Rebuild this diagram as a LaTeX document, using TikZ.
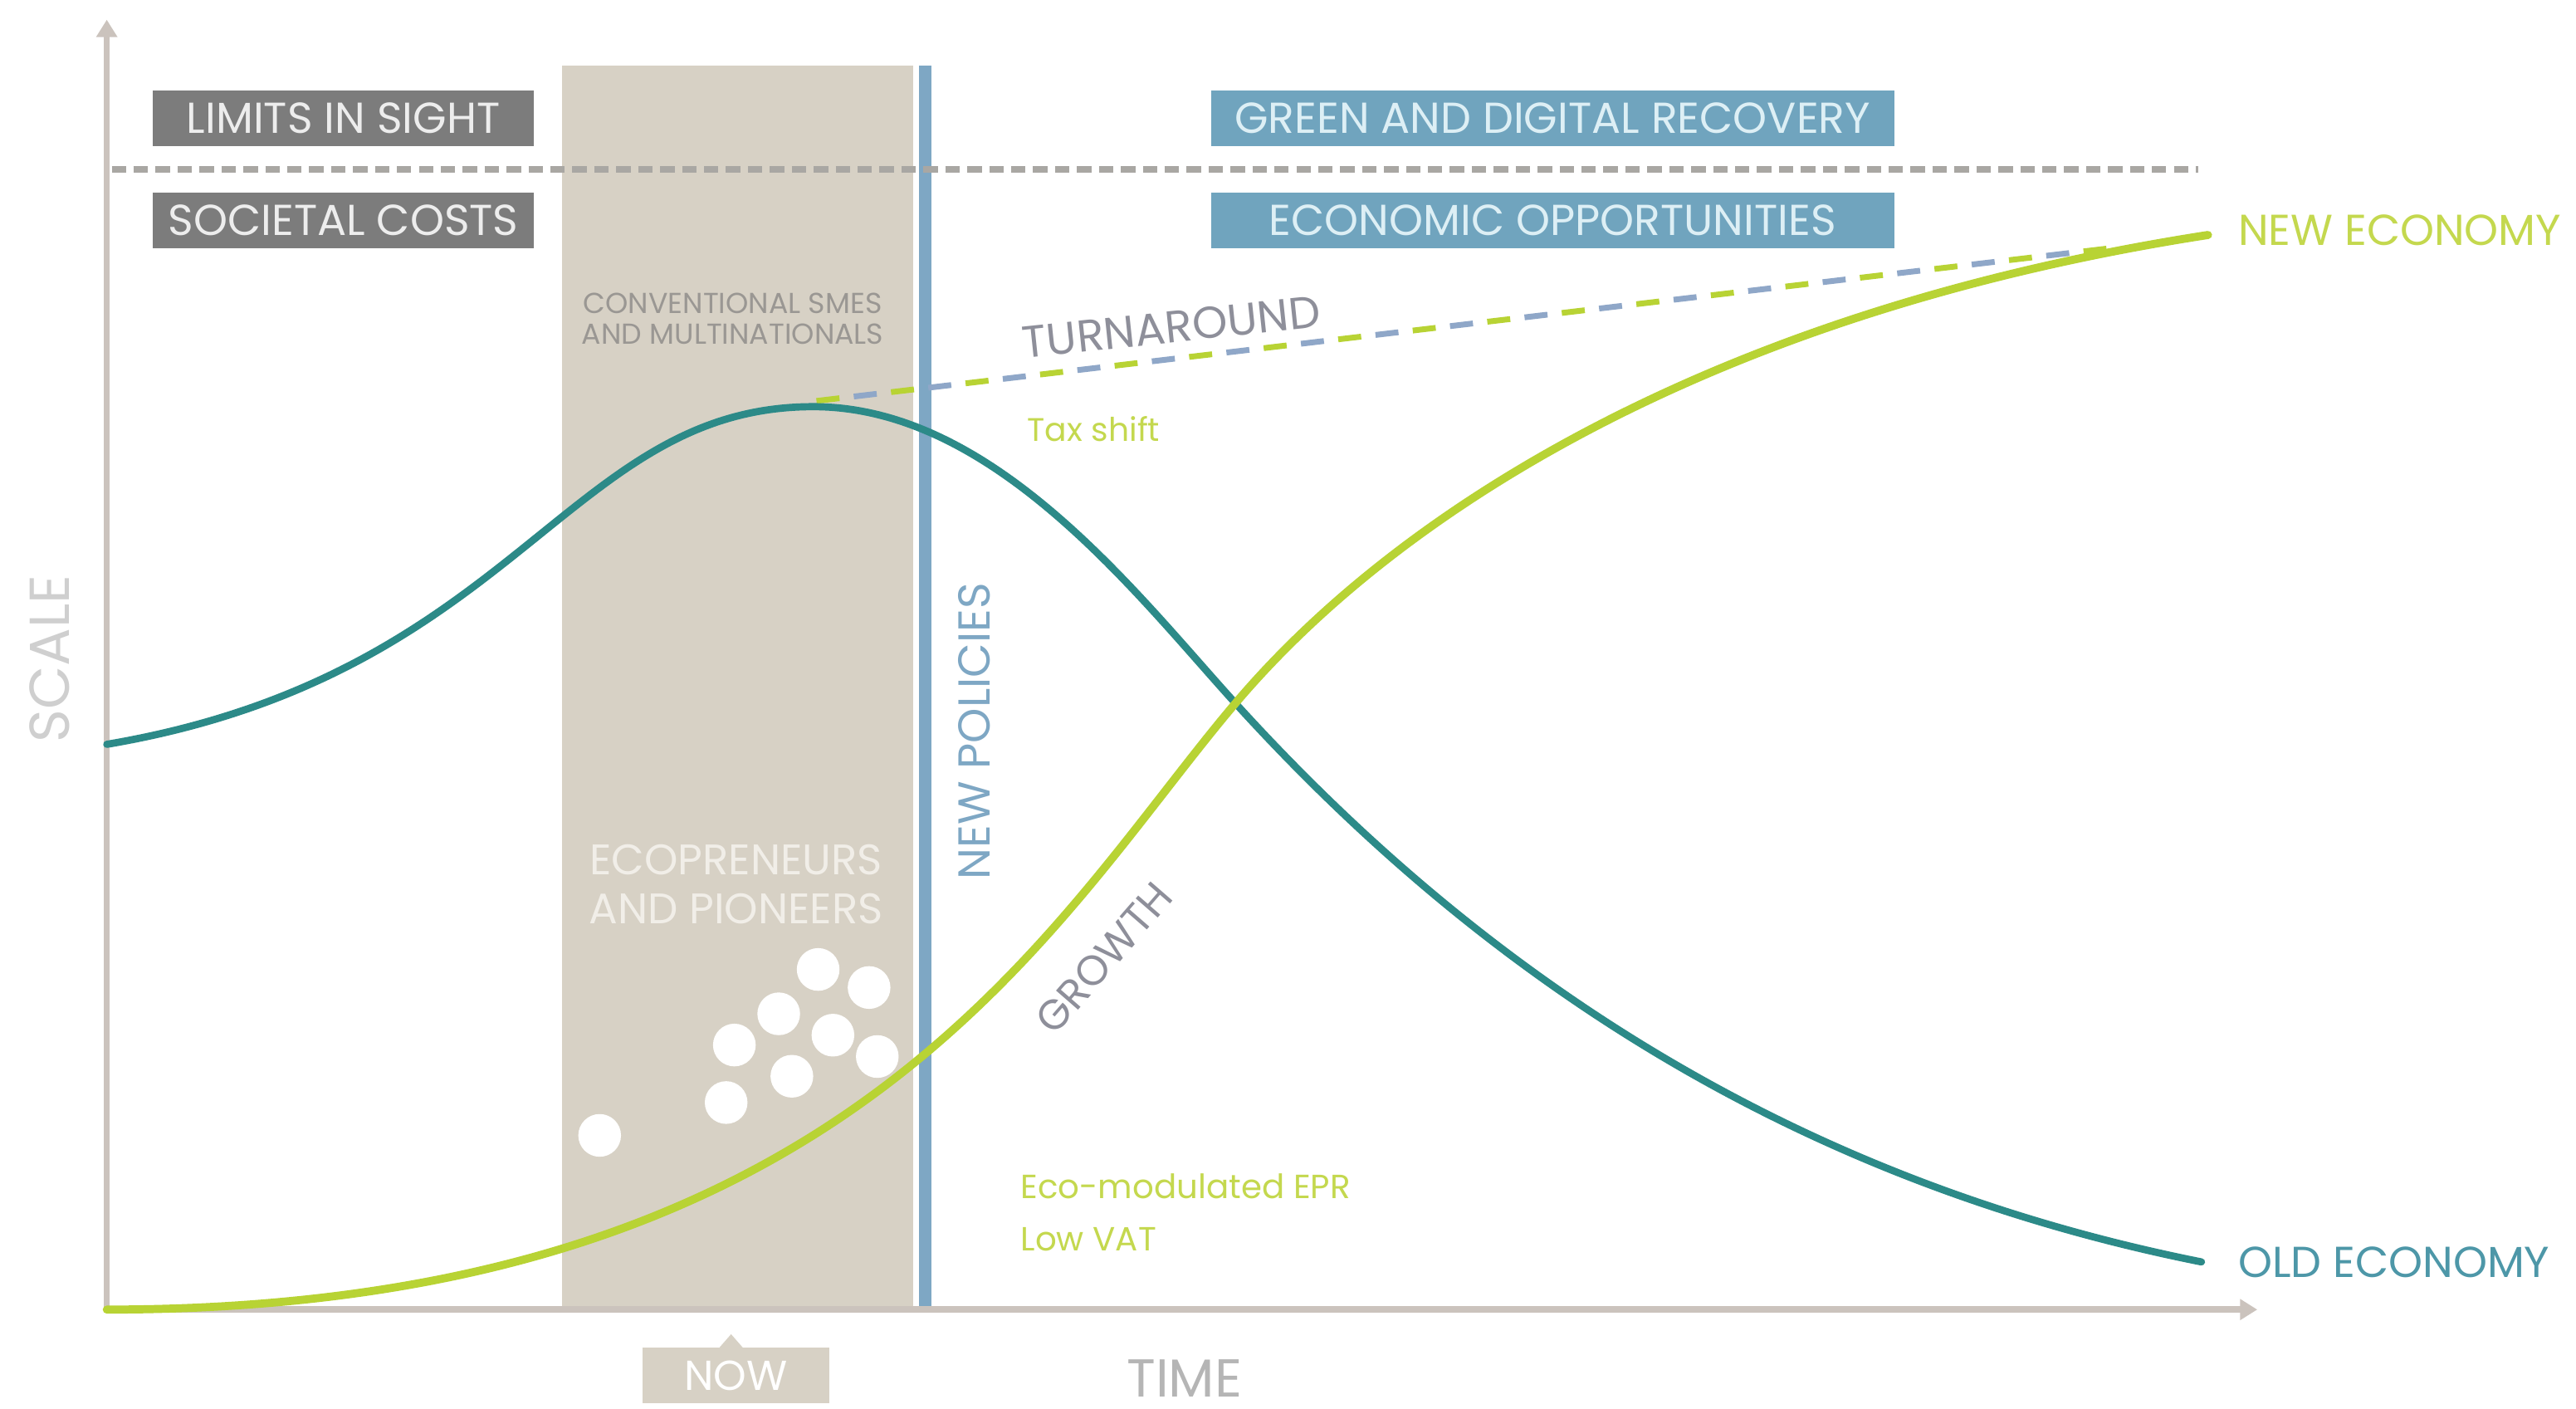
\documentclass[tikz,border=0pt]{standalone}
\usepackage{fontspec}
\setmainfont{Poppins}
\usetikzlibrary{arrows.meta}
\definecolor{axisc}{HTML}{CBC3BD}
\definecolor{bandc}{HTML}{D7D1C5}
\definecolor{bline}{HTML}{7EA7C4}
\definecolor{darkbox}{HTML}{7C7C7C}
\definecolor{bluebox}{HTML}{70A4BE}
\definecolor{darkboxtext}{HTML}{EDEDED}
\definecolor{blueboxtext}{HTML}{DDEFF5}
\definecolor{tealc}{HTML}{2C8A88}
\definecolor{limec}{HTML}{B8D334}
\definecolor{limetext}{HTML}{C4D84E}
\definecolor{oldtext}{HTML}{4D97A8}
\definecolor{sepc}{HTML}{A9A7A3}
\definecolor{turnc}{HTML}{8E8F9A}
\definecolor{dashblue}{HTML}{8FA7C8}
\definecolor{smalltext}{HTML}{9A9793}
\definecolor{ecotext}{HTML}{F1EEE8}
\definecolor{scalec}{HTML}{CFCFCF}
\definecolor{timec}{HTML}{B5B5B5}
\tikzset{
  boxlbl/.style={font=\fontsize{15}{15}\selectfont, inner sep=0pt, minimum height=0.68cm},
  darklbl/.style={boxlbl, fill=darkbox, text=darkboxtext, minimum width=4.64cm},
  bluelbl/.style={boxlbl, fill=bluebox, text=blueboxtext, minimum width=8.32cm},
  curve/.style={line cap=round},
  axisline/.style={draw=axisc, line width=2.2pt, -{Triangle[width=7pt,length=6pt]}},
  dot/.style={circle, fill=white, minimum size=0.52cm, inner sep=0pt},
  turndash/.style={line width=2pt, dash pattern=on 8pt off 18pt},
}
\begin{document}
\begin{tikzpicture}[x=0.02cm, y=-0.02cm]
\useasboundingbox[fill=white] (0,0) rectangle (1568,857.5);
% band and policy line
\fill[bandc] (342,40) rectangle (556,797);
\draw[bline, line width=4.4pt] (563,40) -- (563,797);
% separator
\draw[sepc, line width=2.2pt, dash pattern=on 5pt off 2.6pt] (68,103) -- (1338,103);
% boxes
\node[darklbl] (limits) at (209,72) {LIMITS IN SIGHT};
\node[darklbl] (costs) at (209,134) {SOCIETAL COSTS};
\node[bluelbl] (green) at (945,72) {GREEN AND DIGITAL RECOVERY};
\node[bluelbl] (opps) at (945,134) {ECONOMIC OPPORTUNITIES};
% axes
\coordinate (origin) at (65,797);
\coordinate (ytip) at (65,12);
\coordinate (xtip) at (1374,797);
\draw[axisline] (origin) -- (ytip);
\draw[axisline] (origin) -- (xtip);
% band texts
\node[font=\fontsize{10}{10.8}\selectfont, text=smalltext, align=center, inner sep=0pt] (conv) at (446,194) {CONVENTIONAL SMES\\AND MULTINATIONALS};
\node[font=\fontsize{14.8}{17}\selectfont, text=ecotext, align=center, inner sep=0pt] (eco) at (448,538) {ECOPRENEURS\\AND PIONEERS};
% dots
\node[dot] (d1) at (365,691) {};
\node[dot] (d2) at (442,671) {};
\node[dot] (d3) at (447,636) {};
\node[dot] (d4) at (474,617) {};
\node[dot] (d5) at (482,655) {};
\node[dot] (d6) at (498,590) {};
\node[dot] (d7) at (507,630) {};
\node[dot] (d8) at (529,601) {};
\node[dot] (d9) at (534,643) {};
% turnaround dashed line
\coordinate (tstart) at (497,244);
\coordinate (tend) at (1285,151);
\draw[turndash, limec] (tstart) -- (tend);
\draw[turndash, dashblue, dash phase=13pt] (tstart) -- (tend);
% old economy curve
\coordinate (o0) at (65,453);
\coordinate (opeak) at (495,247.5);
\coordinate (ocross) at (752,428);
\coordinate (oend) at (1340,768);
\draw[curve, tealc, line width=2.5pt] (o0) .. controls (315,410.5) and (345,247.5) .. (opeak)
  .. controls (605,247.5) and (692,362) .. (ocross)
  .. controls (902,593) and (1090,718) .. (oend);
% new economy curve
\coordinate (n0) at (65,797);
\coordinate (nend) at (1344,143);
\draw[curve, limec, line width=2.8pt] (n0) .. controls (520,797) and (640,560) .. (ocross)
  .. controls (852,310) and (1044,189.5) .. (nend);
% labels
\node[font=\fontsize{15}{15}\selectfont, text=limetext, anchor=west, inner sep=0pt] (newec) at (1362,140) {NEW ECONOMY};
\node[font=\fontsize{15}{15}\selectfont, text=oldtext, anchor=west, inner sep=0pt] (oldec) at (1362,768) {OLD ECONOMY};
\node[font=\fontsize{15.5}{15}\selectfont, text=turnc, rotate=6, inner sep=0pt] (turn) at (713,199) {TURNAROUND};
\node[font=\fontsize{11.3}{12}\selectfont, text=limetext, anchor=west, inner sep=0pt] (tax) at (625,261) {Tax shift};
\node[font=\fontsize{15.5}{15}\selectfont, text=bline, rotate=90, inner sep=0pt] (policies) at (593,445) {NEW POLICIES};
\node[font=\fontsize{14.5}{14}\selectfont, text=turnc, rotate=49, inner sep=0pt] (growth) at (672,583) {GROWTH};
\node[font=\fontsize{11.6}{12}\selectfont, text=limetext, anchor=west, inner sep=0pt] (epr) at (621,722) {Eco-modulated EPR};
\node[font=\fontsize{11.6}{12}\selectfont, text=limetext, anchor=west, inner sep=0pt] (vat) at (621,754) {Low VAT};
\node[font=\fontsize{19.5}{20}\selectfont, text=scalec, rotate=90, inner sep=0pt] (scale) at (30,401) {SCALE};
\node[font=\fontsize{18.5}{20}\selectfont, text=timec, inner sep=0pt, anchor=base] (time) at (721,850) {TIME};
% now marker
\fill[bandc] (438,820) -- (445,812) -- (452,820) -- cycle;
\node[fill=bandc, text=white, font=\fontsize{14.5}{15}\selectfont, minimum width=2.28cm, minimum height=0.68cm, inner sep=0pt] (now) at (448,837) {NOW};
\end{tikzpicture}
\end{document}
